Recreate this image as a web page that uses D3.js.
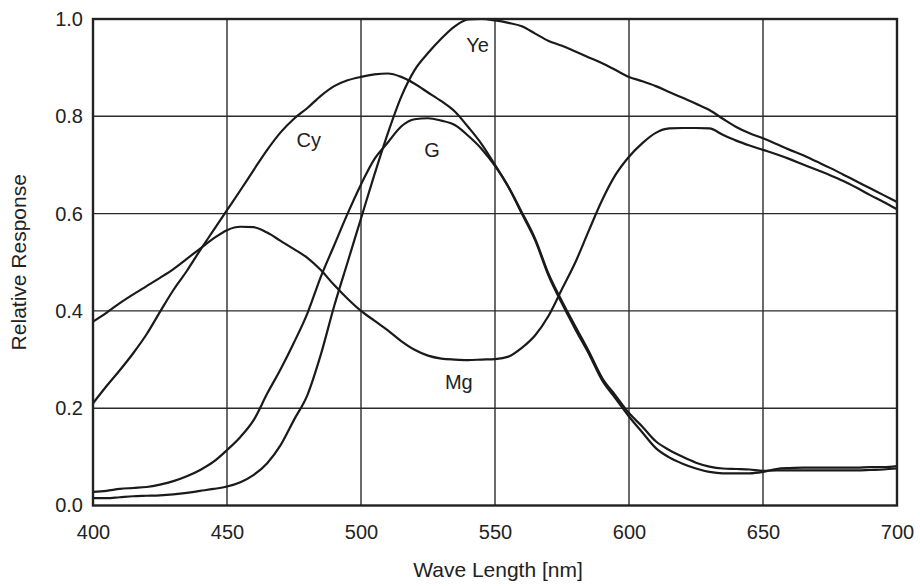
<!DOCTYPE html>
<html>
<head>
<meta charset="utf-8">
<script src="https://cdn.jsdelivr.net/npm/d3@7/dist/d3.min.js"></script>
<style>
  html, body { margin: 0; padding: 0; background: #fff; }
  svg { display: block; }
  .tick text { font-family: "Liberation Sans", Arial, sans-serif; font-size: 20px; fill: #222; }
  .title { font-family: "Liberation Sans", Arial, sans-serif; font-size: 21px; fill: #222; }
  .curve-label { font-family: "Liberation Sans", Arial, sans-serif; font-size: 20px; fill: #222; }
</style>
</head>
<body>
<svg id="chart" width="920" height="586"></svg>
<script>
// wavelengths, nm (5 nm steps)
var wavelengths = d3.range(400, 701, 5);

// relative response per color filter
var cy = [0.21, 0.245, 0.278, 0.313, 0.352, 0.398, 0.443, 0.482, 0.525, 0.566,
          0.607, 0.648, 0.69, 0.731, 0.767, 0.795, 0.817, 0.842, 0.862, 0.874,
          0.881, 0.886, 0.888, 0.881, 0.867, 0.849, 0.831, 0.81, 0.778, 0.743,
          0.70, 0.655, 0.603, 0.548, 0.476, 0.42, 0.368, 0.317, 0.262, 0.226,
          0.19, 0.162, 0.132, 0.114, 0.1, 0.088, 0.08, 0.076, 0.075, 0.074,
          0.071, 0.072, 0.072, 0.072, 0.072, 0.072, 0.072, 0.072, 0.073, 0.074,
          0.076];
var g  = [0.028, 0.03, 0.034, 0.036, 0.038, 0.043, 0.05, 0.06, 0.073, 0.09,
          0.114, 0.141, 0.176, 0.23, 0.28, 0.335, 0.395, 0.47, 0.535, 0.6,
          0.66, 0.712, 0.746, 0.779, 0.794, 0.796, 0.791, 0.782, 0.76, 0.733,
          0.698, 0.655, 0.6, 0.545, 0.472, 0.415, 0.362, 0.312, 0.257, 0.22,
          0.183, 0.15, 0.118, 0.099, 0.086, 0.076, 0.069, 0.066, 0.066, 0.066,
          0.069, 0.075, 0.077, 0.078, 0.078, 0.078, 0.078, 0.078, 0.079, 0.079,
          0.081];
var ye = [0.015, 0.015, 0.017, 0.019, 0.02, 0.021, 0.023, 0.026, 0.03, 0.034,
          0.039, 0.048, 0.063, 0.087, 0.124, 0.176, 0.227, 0.31, 0.41, 0.5,
          0.59, 0.68, 0.765, 0.84, 0.895, 0.93, 0.96, 0.985, 0.999, 1.0,
          0.997, 0.992, 0.985, 0.97, 0.955, 0.945, 0.933, 0.921, 0.909, 0.895,
          0.881, 0.872, 0.862, 0.85, 0.838, 0.826, 0.813, 0.795, 0.778, 0.765,
          0.755, 0.743, 0.731, 0.72, 0.707, 0.694, 0.68, 0.666, 0.652, 0.638,
          0.624];
var mg = [0.378, 0.396, 0.416, 0.434, 0.451, 0.468, 0.486, 0.507, 0.528, 0.549,
          0.566, 0.573, 0.572, 0.561, 0.544, 0.527, 0.509, 0.484, 0.453, 0.425,
          0.40, 0.38, 0.36, 0.338, 0.32, 0.308, 0.302, 0.3, 0.299, 0.3,
          0.301, 0.306, 0.324, 0.35, 0.39, 0.445, 0.50, 0.565, 0.628, 0.68,
          0.717, 0.745, 0.766, 0.775, 0.776, 0.776, 0.775, 0.762, 0.75, 0.74,
          0.731, 0.722, 0.712, 0.701, 0.69, 0.679, 0.667, 0.653, 0.638, 0.624,
          0.609];

var xTicks = [400, 450, 500, 550, 600, 650, 700];
var yTicks = [0.0, 0.2, 0.4, 0.6, 0.8, 1.0];

// curve names and where their labels sit (in data units)
var seriesNames = ["Cy", "G", "Ye", "Mg"];
var labelAt = [[480.5, 0.737], [526.5, 0.716], [543.5, 0.932], [536.5, 0.239]];

var margin = {top: 19, right: 23, bottom: 80.5, left: 93};
var svg = d3.select("#chart");
var width = +svg.attr("width") - margin.left - margin.right;
var height = +svg.attr("height") - margin.top - margin.bottom;

var x = d3.scaleLinear().domain([400, 700]).range([0, width]);
var y = d3.scaleLinear().domain([0, 1]).range([height, 0]);

var root = svg.append("g").attr("transform", "translate(" + margin.left + "," + margin.top + ")");

// grid
root.append("g").selectAll("line.vg")
    .data(xTicks.slice(1, -1)).enter().append("line")
    .attr("x1", function (d) { return x(d); }).attr("x2", function (d) { return x(d); })
    .attr("y1", 0).attr("y2", height)
    .attr("stroke", "#2b2b2b").attr("stroke-width", 1.4);
root.append("g").selectAll("line.hg")
    .data(yTicks.slice(1, -1)).enter().append("line")
    .attr("x1", 0).attr("x2", width)
    .attr("y1", function (d) { return y(d); }).attr("y2", function (d) { return y(d); })
    .attr("stroke", "#2b2b2b").attr("stroke-width", 1.4);

// curves
var line = d3.line()
    .x(function (d, i) { return x(wavelengths[i]); })
    .y(function (d) { return y(d); })
    .curve(d3.curveMonotoneX);

[cy, g, ye, mg].forEach(function (values) {
    root.append("path")
        .datum(values)
        .attr("d", line)
        .attr("fill", "none")
        .attr("stroke", "#1a1a1a")
        .attr("stroke-width", 2.2)
        .attr("stroke-linejoin", "round");
});

// frame
root.append("rect")
    .attr("x", 0).attr("y", 0)
    .attr("width", width).attr("height", height)
    .attr("fill", "none").attr("stroke", "#222").attr("stroke-width", 2.4);

// axes (labels only)
var xAxis = root.append("g")
    .attr("transform", "translate(0," + height + ")")
    .call(d3.axisBottom(x).tickValues(xTicks).tickSize(0).tickPadding(19).tickFormat(d3.format("d")));
xAxis.select(".domain").remove();

var yAxis = root.append("g")
    .call(d3.axisLeft(y).tickValues(yTicks).tickSize(0).tickPadding(10).tickFormat(d3.format(".1f")));
yAxis.select(".domain").remove();

// axis titles
svg.append("text")
    .attr("class", "title")
    .attr("x", margin.left + width / 2 + 3)
    .attr("y", 577)
    .attr("text-anchor", "middle")
    .text("Wave Length [nm]");

svg.append("text")
    .attr("class", "title")
    .attr("transform", "translate(26," + (margin.top + height / 2) + ") rotate(-90)")
    .attr("text-anchor", "middle")
    .text("Relative Response");

// curve labels
root.selectAll("text.curve-label")
    .data(seriesNames).enter().append("text")
    .attr("class", "curve-label")
    .attr("x", function (d, i) { return x(labelAt[i][0]); })
    .attr("y", function (d, i) { return y(labelAt[i][1]); })
    .attr("text-anchor", "middle")
    .text(function (d) { return d; });
</script>
</body>
</html>
